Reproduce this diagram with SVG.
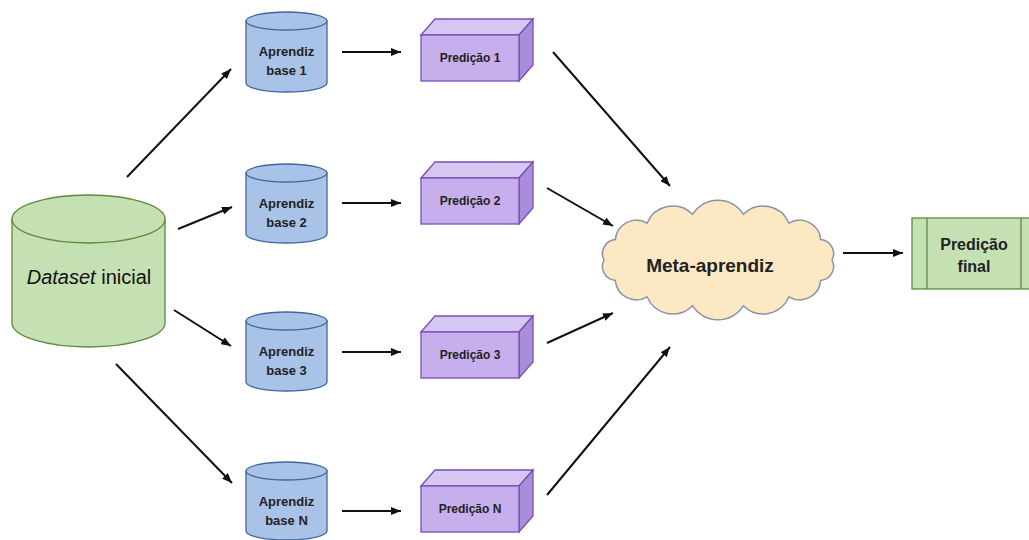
<svg xmlns="http://www.w3.org/2000/svg" width="1029" height="540" viewBox="0 0 1029 540">
  <defs>
    <marker id="arrow" markerUnits="userSpaceOnUse" markerWidth="10" markerHeight="8" refX="10" refY="4" orient="auto">
      <path d="M0,0 L10,4 L0,8 z" fill="#111"/>
    </marker>
    <style>
      .conn { stroke: #111; stroke-width: 2; fill: none; marker-end: url(#arrow); }
      .green { fill: #c5e0b3; stroke: #5d8a3e; stroke-width: 1.3; }
      .blue { fill: #a9c3e8; stroke: #41679a; stroke-width: 1.3; }
      .front { fill: #c7aeec; stroke: #7a4fb5; stroke-width: 1.3; }
      .topf { fill: #d6c6f2; stroke: #7a4fb5; stroke-width: 1.3; }
      .side { fill: #a98dd8; stroke: #7a4fb5; stroke-width: 1.3; }
      .cloud { fill: #fde8c4; stroke: #8a93a3; stroke-width: 1.5; }
      .lbl { font-family: "Liberation Sans", Arial, sans-serif; font-weight: bold; fill: #222; text-anchor: middle; }
      .small { font-size: 13px; }
      .box { font-size: 12px; }
    </style>
  </defs>
  <rect width="1029" height="540" fill="#ffffff"/>

  <!-- source dataset cylinder -->
  <g id="dataset">
    <path class="green" d="M12,219 V323 A76.5,24 0 0 0 165,323 V219 Z"/>
    <ellipse class="green" cx="88.5" cy="219" rx="76.5" ry="24"/>
    <text x="89" y="284" font-family="Liberation Sans, Arial, sans-serif" font-size="20" fill="#111" text-anchor="middle"><tspan font-style="italic">Dataset</tspan> inicial</text>
  </g>

  <!-- base learners -->
  <g id="base1">
    <path class="blue" d="M246,21 V83 A40.5,9 0 0 0 327,83 V21 Z"/>
    <ellipse class="blue" cx="286.5" cy="21" rx="40.5" ry="9"/>
    <text class="lbl small" x="286.5" y="56">Aprendiz</text>
    <text class="lbl small" x="286.5" y="75">base 1</text>
  </g>
  <g id="base2">
    <path class="blue" d="M246,173 V234 A40.5,9 0 0 0 327,234 V173 Z"/>
    <ellipse class="blue" cx="286.5" cy="173" rx="40.5" ry="9"/>
    <text class="lbl small" x="286.5" y="208">Aprendiz</text>
    <text class="lbl small" x="286.5" y="227">base 2</text>
  </g>
  <g id="base3">
    <path class="blue" d="M246,321 V382 A40.5,9 0 0 0 327,382 V321 Z"/>
    <ellipse class="blue" cx="286.5" cy="321" rx="40.5" ry="9"/>
    <text class="lbl small" x="286.5" y="356">Aprendiz</text>
    <text class="lbl small" x="286.5" y="375">base 3</text>
  </g>
  <g id="baseN">
    <path class="blue" d="M246,471 V531 A40.5,9 0 0 0 327,531 V471 Z"/>
    <ellipse class="blue" cx="286.5" cy="471" rx="40.5" ry="9"/>
    <text class="lbl small" x="286.5" y="506">Aprendiz</text>
    <text class="lbl small" x="286.5" y="525">base N</text>
  </g>

  <!-- prediction boxes (front, top and side faces) -->
  <g id="pred1">
    <path class="topf" d="M421,35 L435,19 H533 L519,35 Z"/>
    <path class="side" d="M519,35 L533,19 V65 L519,81 Z"/>
    <rect class="front" x="421" y="35" width="98" height="46"/>
    <text class="lbl box" x="470" y="62">Predição 1</text>
  </g>
  <g id="pred2">
    <path class="topf" d="M421,178 L435,162 H533 L519,178 Z"/>
    <path class="side" d="M519,178 L533,162 V208 L519,224 Z"/>
    <rect class="front" x="421" y="178" width="98" height="46"/>
    <text class="lbl box" x="470" y="205">Predição 2</text>
  </g>
  <g id="pred3">
    <path class="topf" d="M421,332 L435,316 H533 L519,332 Z"/>
    <path class="side" d="M519,332 L533,316 V362 L519,378 Z"/>
    <rect class="front" x="421" y="332" width="98" height="46"/>
    <text class="lbl box" x="470" y="359">Predição 3</text>
  </g>
  <g id="predN">
    <path class="topf" d="M421,486 L435,470 H533 L519,486 Z"/>
    <path class="side" d="M519,486 L533,470 V516 L519,532 Z"/>
    <rect class="front" x="421" y="486" width="98" height="46"/>
    <text class="lbl box" x="470" y="513">Predição N</text>
  </g>

  <!-- meta learner cloud -->
  <g id="meta">
    <path class="cloud" d="M832,260
      A14,14 0 0 1 820.7,280.4
      A21,21 0 0 1 789,296.8
      A28,28 0 0 1 743.4,305.8
      A30,30 0 0 1 692.6,305.8
      A28,28 0 0 1 647,296.8
      A21,21 0 0 1 615.3,280.4
      A14,14 0 0 1 604,260
      A14,14 0 0 1 615.3,239.6
      A21,21 0 0 1 647,223.2
      A28,28 0 0 1 692.6,214.2
      A30,30 0 0 1 743.4,214.2
      A28,28 0 0 1 789,223.2
      A21,21 0 0 1 820.7,239.6
      A14,14 0 0 1 832,260 Z"/>
    <text class="lbl" x="710" y="272" font-size="19">Meta-aprendiz</text>
  </g>

  <!-- final prediction -->
  <g id="final">
    <rect class="green" x="912" y="218" width="124" height="71"/>
    <line class="green" x1="927" y1="218" x2="927" y2="289"/>
    <line class="green" x1="1021" y1="218" x2="1021" y2="289"/>
    <text class="lbl" x="974" y="250" font-size="16">Predição</text>
    <text class="lbl" x="974" y="272" font-size="16">final</text>
  </g>

  <!-- connectors -->
  <g id="connectors">
    <line class="conn" x1="127" y1="177" x2="231" y2="69"/>
    <line class="conn" x1="178" y1="229" x2="232" y2="207"/>
    <line class="conn" x1="174" y1="310" x2="231" y2="346"/>
    <line class="conn" x1="116" y1="364" x2="232" y2="483"/>
    <line class="conn" x1="342" y1="52" x2="401" y2="52"/>
    <line class="conn" x1="342" y1="203" x2="401" y2="203"/>
    <line class="conn" x1="342" y1="352" x2="401" y2="352"/>
    <line class="conn" x1="342" y1="511" x2="401" y2="511"/>
    <line class="conn" x1="553" y1="52" x2="670" y2="186"/>
    <line class="conn" x1="547" y1="188" x2="613" y2="226"/>
    <line class="conn" x1="547" y1="343" x2="613" y2="313"/>
    <line class="conn" x1="547" y1="495" x2="670" y2="347"/>
    <line class="conn" x1="843" y1="253" x2="903" y2="253"/>
  </g>
</svg>
